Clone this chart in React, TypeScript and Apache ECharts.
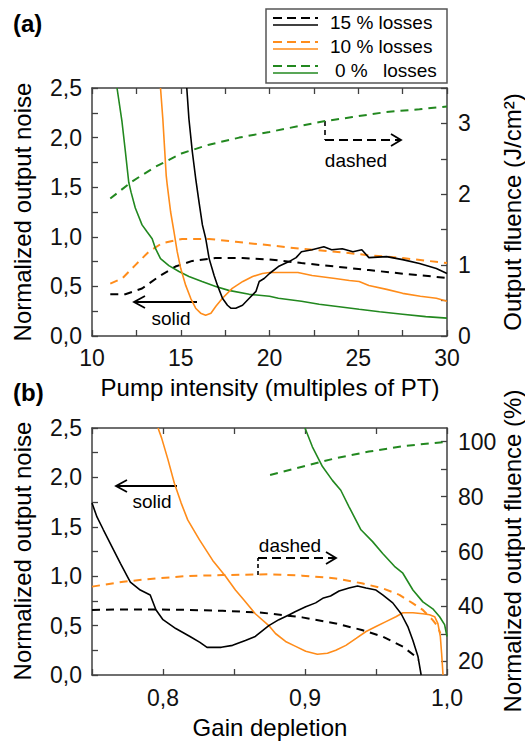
import React, { useEffect, useRef } from 'react';
import * as echarts from 'echarts';

const FONT = '"Liberation Sans", Arial, Helvetica, sans-serif';
const BLACK = '#000000';
const ORANGE = '#ff8c1a';
const GREEN = '#22881f';
const FRAME = '#404040';

// ---------- panel (a): x = pump intensity, solid = noise (left), dashed = fluence J/cm2 (right)
const aXLabels = [10, 15, 20, 25, 30];
const aLeftLabels = [0, 0.5, 1, 1.5, 2, 2.5];
const aRightLabels = [0, 1, 2, 3];

const aBlackSolid = [[15.34,2.5],[15.46,2.19],[15.65,1.86],[15.84,1.59],[16.03,1.35],[16.22,1.12],[16.41,0.98],[16.6,0.78],[16.88,0.61],[17.07,0.51],[17.35,0.38],[17.63,0.31],[17.82,0.28],[18.1,0.28],[18.48,0.31],[18.86,0.38],[19.24,0.45],[19.42,0.55],[19.7,0.58],[20,0.63],[20.5,0.7],[21.1,0.75],[21.5,0.79],[21.8,0.85],[22.4,0.87],[23.06,0.9],[23.5,0.87],[24.1,0.88],[24.7,0.85],[25.2,0.87],[25.6,0.79],[26.6,0.8],[27.5,0.77],[28.45,0.73],[29.4,0.68],[30,0.63]];
const aOrangeSolid = [[13.86,2.5],[13.99,2.19],[14.1,1.86],[14.18,1.62],[14.24,1.52],[14.43,1.25],[14.62,1.05],[14.8,0.85],[15.0,0.68],[15.28,0.51],[15.56,0.38],[15.84,0.28],[16.12,0.23],[16.4,0.21],[16.7,0.23],[16.98,0.3],[17.35,0.38],[17.9,0.48],[18.5,0.55],[19.05,0.6],[19.6,0.63],[20,0.64],[20.9,0.64],[21.6,0.64],[22.4,0.61],[23.7,0.58],[24.5,0.56],[25.05,0.55],[25.6,0.51],[26.6,0.47],[27.5,0.43],[28.5,0.4],[29.4,0.38],[30,0.35]];
const aGreenSolid = [[11.41,2.5],[11.69,2.16],[11.88,1.86],[12.07,1.55],[12.2,1.45],[12.44,1.29],[12.82,1.12],[13.1,1.05],[13.39,0.98],[13.58,0.88],[13.86,0.78],[14.33,0.71],[14.9,0.65],[15.46,0.6],[16.2,0.55],[16.97,0.5],[17.7,0.46],[18.86,0.42],[20,0.4],[20.5,0.38],[21.8,0.35],[22.8,0.32],[23.7,0.3],[25.05,0.27],[26.2,0.245],[27.5,0.22],[28.8,0.195],[30,0.18]];
const aBlackDashed = [[11.03,0.59],[11.88,0.59],[12.82,0.67],[13.77,0.84],[14.7,0.98],[15.65,1.06],[16.97,1.1],[18.48,1.1],[20,1.08],[21.8,1.03],[23.7,0.98],[25.6,0.93],[27.5,0.88],[30,0.82]];
const aOrangeDashed = [[11.03,0.74],[11.69,0.81],[12.44,1.0],[13.2,1.19],[13.95,1.31],[15.08,1.37],[16.59,1.37],[18.1,1.33],[20,1.28],[21.8,1.23],[23.7,1.19],[25.6,1.14],[27.5,1.1],[30,1.03]];
const aGreenDashed = [[11.03,1.94],[12.25,2.18],[13.58,2.39],[15.08,2.58],[16.59,2.7],[18.29,2.8],[20,2.88],[21.8,2.97],[23.06,3.03],[24.67,3.09],[26.56,3.16],[28.45,3.2],[30,3.24]];

// ---------- panel (b): x = gain depletion, solid = noise (left), dashed = normalized fluence % (right)
const bXLabels = [0.8, 0.9, 1.0];
const bLeftLabels = [0, 0.5, 1, 1.5, 2, 2.5];
const bRightLabels = [20, 40, 60, 80, 100];
const bRightTicks = [20, 30, 40, 50, 60, 70, 80, 90, 100];

const bBlackSolid = [[0.75,1.74],[0.7535,1.6],[0.758,1.47],[0.764,1.3],[0.77,1.13],[0.777,0.94],[0.784,0.86],[0.791,0.81],[0.795,0.66],[0.8,0.56],[0.809,0.47],[0.819,0.39],[0.826,0.33],[0.831,0.28],[0.841,0.28],[0.849,0.3],[0.858,0.35],[0.865,0.39],[0.8745,0.5],[0.8816,0.56],[0.889,0.61],[0.893,0.64],[0.9005,0.69],[0.9075,0.73],[0.913,0.78],[0.918,0.8],[0.924,0.85],[0.931,0.88],[0.937,0.9],[0.943,0.88],[0.95,0.86],[0.9547,0.81],[0.9618,0.73],[0.9677,0.62],[0.9724,0.49],[0.976,0.35],[0.9795,0.19],[0.9818,0]];
const bOrangeSolid = [[0.7965,2.5],[0.799,2.4],[0.8035,2.18],[0.808,1.94],[0.8128,1.74],[0.8174,1.57],[0.8256,1.37],[0.835,1.16],[0.844,1.0],[0.851,0.86],[0.857,0.76],[0.865,0.62],[0.8745,0.5],[0.8792,0.42],[0.8863,0.34],[0.8934,0.29],[0.9005,0.24],[0.9087,0.21],[0.9158,0.22],[0.9217,0.25],[0.9288,0.3],[0.936,0.37],[0.943,0.44],[0.95,0.49],[0.957,0.54],[0.964,0.59],[0.969,0.63],[0.976,0.63],[0.983,0.62],[0.9877,0.61],[0.9913,0.59],[0.9936,0.52],[0.9953,0.39],[0.9962,0.22],[0.9972,0]];
const bGreenSolid = [[0.9,2.5],[0.9052,2.31],[0.9123,2.11],[0.9193,1.97],[0.9252,1.87],[0.9311,1.7],[0.9394,1.47],[0.9476,1.35],[0.9547,1.23],[0.963,1.1],[0.9689,1.03],[0.976,0.86],[0.983,0.74],[0.99,0.67],[0.9948,0.59],[0.9983,0.51],[1.0,0.39]];
const bBlackDashed = [[0.75,38.7],[0.772,38.9],[0.795,38.9],[0.8186,38.7],[0.842,38.4],[0.8698,37.7],[0.898,36.0],[0.9217,33.8],[0.94,31.4],[0.9547,29.0],[0.969,25.3],[0.978,21.7],[0.98,20.5]];
const bOrangeDashed = [[0.75,47.2],[0.772,49.0],[0.795,50.2],[0.8186,51.1],[0.842,51.4],[0.8745,51.7],[0.898,51.2],[0.9217,50.2],[0.94,48.4],[0.9547,46.6],[0.9665,44.2],[0.976,41.1],[0.983,38.7],[0.99,35.0],[0.9936,32.6],[0.9953,30.2]];
const bGreenDashed = [[0.8754,87.9],[0.898,90.9],[0.9217,94.0],[0.945,96.4],[0.969,98.4],[1.0,100.0]];

const legendItems = [
  { label: '15 % losses', color: BLACK },
  { label: '10 % losses', color: ORANGE },
  { label: '0 %', label2: 'losses', color: GREEN },
];

const comma = (v: number, d: number) => v.toFixed(d).replace('.', ',');

const axisLine = { show: true, onZero: false, lineStyle: { color: FRAME, width: 1.5 } };
const axisTick = { show: true, inside: true, length: 6, lineStyle: { color: FRAME, width: 1.3 } };
const labelBase = { fontSize: 23, color: '#111', fontFamily: FONT };

function lineSeries(data: number[][], xi: number, yi: number, color: string, dashed: boolean) {
  return {
    type: 'line',
    xAxisIndex: xi,
    yAxisIndex: yi,
    data,
    symbol: 'none',
    showSymbol: false,
    silent: true,
    clip: true,
    z: dashed ? 3 : 4,
    lineStyle: { color, width: dashed ? 2 : 1.6, type: dashed ? [8, 6] : 'solid' },
  };
}

function txt(text: string, x: number, y: number, size: number, opts: any = {}) {
  return {
    type: 'text',
    x,
    y,
    rotation: opts.rotation || 0,
    silent: true,
    style: {
      text,
      x: 0,
      y: 0,
      fill: '#000',
      font: `${opts.bold ? 'bold ' : ''}${size}px ${FONT}`,
      align: opts.align || 'center',
      verticalAlign: 'middle',
    },
  };
}

function seg(x1: number, y1: number, x2: number, y2: number, dash?: number[], w = 1.8) {
  return {
    type: 'line',
    silent: true,
    shape: { x1, y1, x2, y2 },
    style: { stroke: '#000', lineWidth: w, lineDash: dash || null },
  };
}

function chevron(points: number[][]) {
  return { type: 'polyline', silent: true, shape: { points }, style: { stroke: '#000', lineWidth: 1.8, fill: null } };
}

export default function App() {
  const ref = useRef<HTMLDivElement>(null);

  useEffect(() => {
    if (!ref.current) return;
    const chart = echarts.init(ref.current, undefined, { renderer: 'svg' });

    const legendGraphics: any[] = [
      { type: 'rect', silent: true, shape: { x: 266, y: 9, width: 181, height: 74 }, style: { fill: '#fff', stroke: '#555', lineWidth: 1.5 } },
    ];
    legendItems.forEach((it, i) => {
      const cy = 22 + i * 24;
      legendGraphics.push({ type: 'line', silent: true, shape: { x1: 273, y1: cy - 4, x2: 318, y2: cy - 4 }, style: { stroke: it.color, lineWidth: 2, lineDash: [9, 5] } });
      legendGraphics.push({ type: 'line', silent: true, shape: { x1: 273, y1: cy + 3, x2: 318, y2: cy + 3 }, style: { stroke: it.color, lineWidth: 1.6 } });
      if (it.label2) {
        legendGraphics.push(txt(it.label, 335, cy, 19, { align: 'left' }));
        legendGraphics.push(txt(it.label2, 383, cy, 19, { align: 'left' }));
      } else {
        legendGraphics.push(txt(it.label, 330, cy, 19, { align: 'left' }));
      }
    });

    const option: any = {
      animation: false,
      backgroundColor: '#ffffff',
      grid: [
        { left: 92, top: 88, width: 355, height: 248 },
        { left: 92, top: 428, width: 355, height: 247 },
      ],
      xAxis: [
        { type: 'value', gridIndex: 0, position: 'bottom', min: 10, max: 30, interval: 2.5, axisLine, axisTick, splitLine: { show: false },
          axisLabel: { ...labelBase, margin: 10, customValues: aXLabels, formatter: (v: number) => String(v) } },
        { type: 'value', gridIndex: 0, position: 'top', min: 10, max: 30, interval: 2.5, axisLine, axisTick, splitLine: { show: false }, axisLabel: { show: false } },
        { type: 'value', gridIndex: 1, position: 'bottom', min: 0.75, max: 1.0, interval: 0.05, axisLine, axisTick, splitLine: { show: false },
          axisLabel: { ...labelBase, margin: 11, customValues: bXLabels, formatter: (v: number) => comma(v, 1) } },
        { type: 'value', gridIndex: 1, position: 'top', min: 0.75, max: 1.0, interval: 0.05, axisLine, axisTick, splitLine: { show: false }, axisLabel: { show: false } },
      ],
      yAxis: [
        { type: 'value', gridIndex: 0, position: 'left', min: 0, max: 2.5, interval: 0.25, axisLine, axisTick, splitLine: { show: false },
          axisLabel: { ...labelBase, margin: 10, customValues: aLeftLabels, formatter: (v: number) => comma(v, 1) } },
        { type: 'value', gridIndex: 0, position: 'right', min: 0, max: 3.5, interval: 0.5, axisLine, axisTick, splitLine: { show: false },
          axisLabel: { ...labelBase, margin: 11, customValues: aRightLabels, formatter: (v: number) => String(v) } },
        { type: 'value', gridIndex: 1, position: 'left', min: 0, max: 2.5, interval: 0.25, axisLine, axisTick, splitLine: { show: false },
          axisLabel: { ...labelBase, margin: 10, customValues: bLeftLabels, formatter: (v: number) => comma(v, 1) } },
        { type: 'value', gridIndex: 1, position: 'right', min: 15, max: 105, axisLine, splitLine: { show: false },
          axisTick: { ...axisTick, customValues: bRightTicks },
          axisLabel: { ...labelBase, margin: 11, customValues: bRightLabels, formatter: (v: number) => String(v) } },
      ],
      series: [
        lineSeries(aBlackDashed, 0, 1, BLACK, true),
        lineSeries(aOrangeDashed, 0, 1, ORANGE, true),
        lineSeries(aGreenDashed, 0, 1, GREEN, true),
        lineSeries(aGreenSolid, 0, 0, GREEN, false),
        lineSeries(aOrangeSolid, 0, 0, ORANGE, false),
        lineSeries(aBlackSolid, 0, 0, BLACK, false),
        lineSeries(bBlackDashed, 2, 3, BLACK, true),
        lineSeries(bOrangeDashed, 2, 3, ORANGE, true),
        lineSeries(bGreenDashed, 2, 3, GREEN, true),
        lineSeries(bGreenSolid, 2, 2, GREEN, false),
        lineSeries(bOrangeSolid, 2, 2, ORANGE, false),
        lineSeries(bBlackSolid, 2, 2, BLACK, false),
      ],
      graphic: [
        txt('(a)', 13, 23, 24, { bold: true, align: 'left' }),
        txt('(b)', 13, 392, 24, { bold: true, align: 'left' }),
        txt('Normalized output noise', 22, 212, 24, { rotation: Math.PI / 2 }),
        txt('Output fluence (J/cm²)', 512, 212, 24, { rotation: Math.PI / 2 }),
        txt('Pump intensity (multiples of PT)', 270, 387, 24),
        txt('Normalized output noise', 22, 551, 24, { rotation: Math.PI / 2 }),
        txt('Normalized output fluence (%)', 512, 551, 24, { rotation: Math.PI / 2 }),
        txt('Gain depletion', 270, 727, 24),
        ...legendGraphics,
        // panel a annotations
        seg(197, 302, 134, 302),
        chevron([[145, 296], [134, 302], [145, 308]]),
        txt('solid', 171, 318, 19),
        seg(325, 121, 325, 140, [5, 4], 1.6),
        seg(325, 140, 400, 140, [9, 5], 1.8),
        chevron([[391, 134], [401, 140], [391, 146]]),
        txt('dashed', 356, 160, 19),
        // panel b annotations
        seg(177, 486, 116, 486),
        chevron([[127, 480], [116, 486], [127, 492]]),
        txt('solid', 152, 501, 19),
        seg(258, 575, 258, 558, [4, 3], 1.6),
        seg(258, 558, 335, 558, [9, 5], 1.8),
        chevron([[326, 552], [336, 558], [326, 564]]),
        txt('dashed', 290, 545, 19),
      ],
    };

    chart.setOption(option);
    return () => chart.dispose();
  }, []);

  return <div ref={ref} style={{ position: 'absolute', left: 0, top: 0, width: 525, height: 741 }} />;
}
